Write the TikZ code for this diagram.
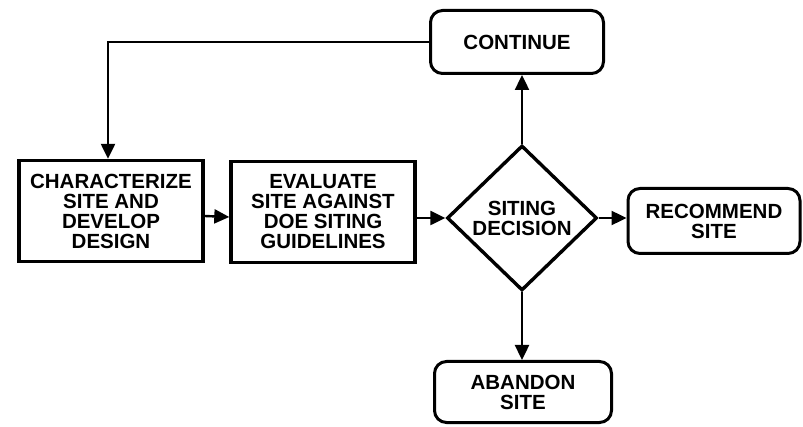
\documentclass[tikz,border=0pt]{standalone}
\usepackage{fontspec}
\setmainfont{Liberation Sans}
\usetikzlibrary{arrows.meta,shapes.geometric}
\tikzset{
    stepbox/.style={draw, line width=3.4pt, align=center, inner sep=0pt},
    endbox/.style={stepbox, line width=3pt, rounded corners=12pt},
    flow/.style={line width=2.4pt, -{Triangle[length=15pt,width=14pt]}}
}

\begin{document}
\begin{tikzpicture}[x=1pt, y=-1pt, font=\fontsize{20.5}{20}\selectfont\bfseries]
\useasboundingbox (0,0) rectangle (803,427);
\node[stepbox, minimum width=184pt, minimum height=101pt] (characterize) at (111,211) {CHARACTERIZE\\SITE AND\\DEVELOP\\DESIGN};
\node[stepbox, minimum width=184pt, minimum height=101pt] (evaluate) at (323,212) {EVALUATE\\SITE AGAINST\\DOE SITING\\GUIDELINES};
\node[stepbox, diamond, aspect=1, minimum width=150pt, minimum height=145pt] (decision) at (522,218) {SITING\\DECISION};
\node[endbox, minimum width=173pt, minimum height=63pt] (continue) at (517,42) {CONTINUE};
\node[endbox, minimum width=172pt, minimum height=65pt] (recommend) at (714,221) {RECOMMEND\\SITE};
\node[endbox, minimum width=177pt, minimum height=61pt] (abandon) at (523,392) {ABANDON\\SITE};

\draw[flow] ([yshift=-5pt]characterize.east) -- ([yshift=-5pt]evaluate.west);
\draw[flow] (evaluate.east |- decision.west) -- (decision.west);
\draw[flow] (decision.north) -- (decision.north |- continue.south);
\draw[flow] (decision.east) -- (decision.east -| recommend.west);
\draw[flow] (decision.south) -- (decision.south |- abandon.north);
\draw[flow] (continue.west) -- ([xshift=-3pt]characterize.north |- continue.west) -- ([xshift=-3pt]characterize.north); % loop back
\end{tikzpicture}
\end{document}
